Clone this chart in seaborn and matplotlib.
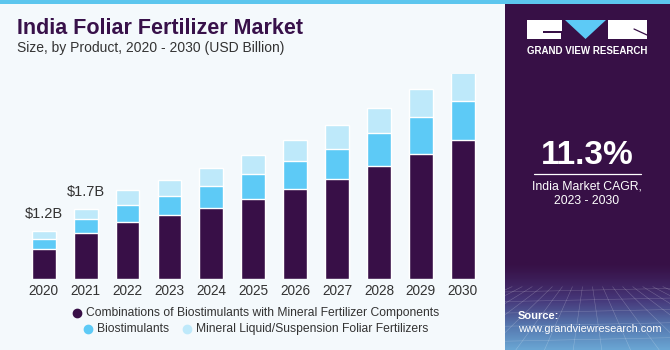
import numpy as np
import pandas as pd
import matplotlib
matplotlib.use("Agg")
import matplotlib.pyplot as plt
from matplotlib.patches import Rectangle, Polygon
from matplotlib.lines import Line2D
import seaborn as sns

# Market size by product, USD billion
years = ["2020", "2021", "2022", "2023", "2024", "2025", "2026", "2027", "2028", "2029", "2030"]
combinations = [0.72, 1.10, 1.38, 1.54, 1.73, 1.95, 2.18, 2.43, 2.75, 3.04, 3.37]
biostimulants = [0.24, 0.35, 0.42, 0.47, 0.53, 0.60, 0.68, 0.74, 0.80, 0.90, 0.97]
mineral_liquid = [0.20, 0.25, 0.35, 0.40, 0.44, 0.46, 0.51, 0.57, 0.62, 0.69, 0.76]
labels = {"2020": "$1.2B", "2021": "$1.7B"}

series_names = [
    "Combinations of Biostimulants with Mineral Fertilizer Components",
    "Biostimulants",
    "Mineral Liquid/Suspension Foliar Fertilizers",
]

DARK = "#380F47"
BLUE = "#5DCAF6"
LIGHT = "#BEE9FA"
BG = "#F4F9FC"
PANEL = "#371046"
TEXT = "#333333"

W, H = 670, 350

sns.set_theme(style="white")
plt.rcParams["font.family"] = ["Liberation Sans", "DejaVu Sans"]

fig = plt.figure(figsize=(W / 100, H / 100), dpi=100)
fig.patch.set_facecolor(BG)


def fx(px):
    return px / W


def fy(py):
    return 1 - py / H


df = pd.DataFrame({
    "year": years,
    "c": combinations,
    "b": biostimulants,
    "m": mineral_liquid,
})
df["cb"] = df["c"] + df["b"]
df["total"] = df["cb"] + df["m"]

# chart area
ax = fig.add_axes([fx(20.7), 71.5 / H, (485.8 - 20.7) / W, 205 / H])
ax.set_facecolor(BG)
sns.barplot(data=df, x="year", y="total", color=LIGHT, saturation=1, width=0.57, ax=ax)
sns.barplot(data=df, x="year", y="cb", color=BLUE, saturation=1, width=0.57, ax=ax)
sns.barplot(data=df, x="year", y="c", color=DARK, saturation=1, width=0.57, ax=ax)
ax.set_xlim(-0.55, 10.55)
ax.set_ylim(0, 5.0)
ax.set_xlabel("")
ax.set_ylabel("")
ax.set_yticks([])
for s in ax.spines.values():
    s.set_visible(False)
ax.tick_params(axis="x", length=0, pad=4, labelsize=9.8, labelcolor=TEXT)

for i, y in enumerate(years):
    if y in labels:
        ax.text(i, df["total"][i] + 0.25, labels[y], ha="center", va="bottom",
                fontsize=10.5, color=TEXT)

# title
fig.text(fx(17), fy(28), "India Foliar Fertilizer Market", fontsize=15.5,
         fontweight="bold", color="#38114A", va="center", ha="left")
fig.text(fx(17), fy(48), "Size, by Product, 2020 - 2030 (USD Billion)", fontsize=10,
         color=TEXT, va="center", ha="left")

# legend
def legend_item(x_dot, y, color, text):
    fig.add_artist(Line2D([fx(x_dot)], [fy(y)], marker="o", markersize=6,
                          color=color, linestyle="none", transform=fig.transFigure))
    fig.text(fx(x_dot + 9), fy(y), text, fontsize=8.7, color=TEXT, va="center", ha="left")

legend_item(77, 313, DARK, series_names[0])
legend_item(88, 329, BLUE, series_names[1])
legend_item(187, 329, LIGHT, series_names[2])

# top strip
fig.add_artist(Rectangle((0, fy(4)), 1, 4 / H, transform=fig.transFigure,
                         facecolor="#5CC6EE", edgecolor="none"))

# side panel
px0 = 505
panel = Rectangle((fx(px0), 0), 1 - fx(px0), fy(4), transform=fig.transFigure,
                  facecolor=PANEL, edgecolor="none", zorder=0.5)
fig.add_artist(panel)

# lower panel glow with grid lines
gax = fig.add_axes([fx(px0), 0, 1 - fx(px0), (H - 262) / H])
gax.set_zorder(0.8)
grad = np.linspace(0, 1, 100)[:, None]
cmap = matplotlib.colors.LinearSegmentedColormap.from_list(
    "glow", [PANEL, "#46387A", "#5679B0", "#6AA6D4"])
gax.imshow(grad ** 1.3, aspect="auto", cmap=cmap, origin="upper",
           extent=[0, 1, 0, 1])
for k in np.linspace(-1.5, 2.5, 24):
    gax.plot([0.5 + (k - 0.5) * 0.35, k], [0.72, 0], color="white", lw=0.4, alpha=0.25)
for yy in [0.66, 0.55, 0.42, 0.27, 0.1]:
    gax.plot([0, 1], [yy, yy + 0.04], color="white", lw=0.4, alpha=0.22)
gax.set_xlim(0, 1)
gax.set_ylim(0, 1)
gax.axis("off")

# logo
def box(x0, y0, x1, y1, color):
    fig.add_artist(Rectangle((fx(x0), fy(y1)), fx(x1) - fx(x0), (y1 - y0) / H,
                             transform=fig.transFigure, facecolor=color, edgecolor="none"))

box(527, 20, 562, 39, "white")
box(543, 31, 562, 32.5, PANEL)
box(560.5, 31, 562, 39, PANEL)
fig.add_artist(Polygon([(fx(565), fy(20)), (fx(606), fy(20)), (fx(585.5), fy(39))],
                       closed=True, transform=fig.transFigure, facecolor="#5DCAF6",
                       edgecolor="none"))
box(608, 20, 647, 39, "white")
fig.add_artist(Line2D([fx(634), fx(647)], [fy(29), fy(35)], color=PANEL, lw=0.9,
                      transform=fig.transFigure))
fig.text(fx(587), fy(51), "GRAND VIEW RESEARCH", fontsize=7, fontweight="bold",
         color="white", ha="center", va="center")

# CAGR
fig.text(fx(587), fy(155), "11.3%", fontsize=24, fontweight="bold", color="white",
         ha="center", va="center")
fig.add_artist(Line2D([fx(534), fx(641)], [fy(173.5), fy(173.5)], color="white", lw=0.9,
                      transform=fig.transFigure))
fig.text(fx(587), fy(186), "India Market CAGR,", fontsize=8.8, color="white",
         ha="center", va="center")
fig.text(fx(587), fy(201), "2023 - 2030", fontsize=8.8, color="white",
         ha="center", va="center")

# source
fig.text(fx(518), fy(316), "Source:", fontsize=8, fontweight="bold", color="white",
         ha="left", va="center")
fig.text(fx(518), fy(329), "www.grandviewresearch.com", fontsize=7.9, color="white",
         ha="left", va="center")

fig.savefig("out.png", dpi=100, facecolor=BG)
